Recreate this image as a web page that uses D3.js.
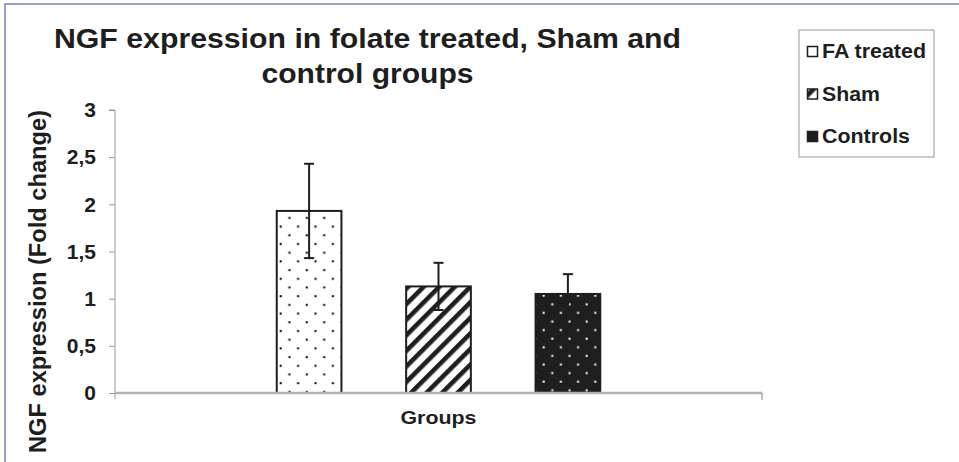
<!DOCTYPE html>
<html>
<head>
<meta charset="utf-8">
<script src="https://cdn.jsdelivr.net/npm/d3@7"></script>
<style>
  body { margin: 0; background: #fff; }
  svg { display: block; font-family: "Liberation Sans", Arial, sans-serif; font-weight: bold; }
</style>
</head>
<body>
<div id="chart"></div>
<script>
// data
const groups = ["FA treated", "Sham", "Controls"];
const means = [1.93, 1.13, 1.05];
const errors = [0.5, 0.25, 0.21];
const yTicks = [0, 0.5, 1, 1.5, 2, 2.5, 3];
const category = "Groups";
const titleLines = ["NGF expression in folate treated, Sham and", "control groups"];
const yLabel = "NGF expression (Fold change)";

const W = 959, H = 462;
const margin = {top: 110, right: 197, bottom: 69, left: 115},
    width = W - margin.left - margin.right,
    height = H - margin.top - margin.bottom;

const ink = "#1e1e1e";

const svg = d3.select("#chart")
    .append("svg")
    .attr("width", W)
    .attr("height", H);

// outer frame (only top and left edges visible)
svg.append("rect")
    .attr("x", 5).attr("y", 4)
    .attr("width", 1200).attr("height", 1200)
    .attr("fill", "none")
    .attr("stroke", "#7483b3")
    .attr("stroke-width", 1.5);

// patterns
const defs = svg.append("defs");

const dots = defs.append("pattern")
    .attr("id", "dotsLight")
    .attr("patternUnits", "userSpaceOnUse")
    .attr("x", 282).attr("y", 216)
    .attr("width", 17.4).attr("height", 17.4);
dots.append("rect").attr("width", 17.4).attr("height", 17.4).attr("fill", "#fff");
dots.append("rect").attr("x", 4.5).attr("y", 4).attr("width", 2).attr("height", 2).attr("fill", "#000");
dots.append("rect").attr("x", 13.2).attr("y", 12.7).attr("width", 2).attr("height", 2).attr("fill", "#000");

const dotsDark = defs.append("pattern")
    .attr("id", "dotsDark")
    .attr("patternUnits", "userSpaceOnUse")
    .attr("x", 537).attr("y", 293)
    .attr("width", 17.2).attr("height", 17.2);
dotsDark.append("rect").attr("width", 17.2).attr("height", 17.2).attr("fill", ink);
dotsDark.append("rect").attr("x", 2.5).attr("y", 3.5).attr("width", 2).attr("height", 2).attr("fill", "#fff");
dotsDark.append("rect").attr("x", 11.1).attr("y", 12.1).attr("width", 2).attr("height", 2).attr("fill", "#fff");

const stripes = defs.append("pattern")
    .attr("id", "stripes")
    .attr("patternUnits", "userSpaceOnUse")
    .attr("width", 11).attr("height", 11)
    .attr("patternTransform", "rotate(45)");
stripes.append("rect").attr("width", 11).attr("height", 11).attr("fill", "#fff");
stripes.append("rect").attr("x", 0).attr("width", 4.6).attr("height", 11).attr("fill", ink);

const fills = ["url(#dotsLight)", "url(#stripes)", "url(#dotsDark)"];

// scales
const y = d3.scaleLinear()
    .domain([0, 3])
    .range([height, 0]);

const x = d3.scaleBand()
    .domain(groups)
    .range([0, width])
    .paddingInner(0.5)
    .paddingOuter(1.25);

const g = svg.append("g")
    .attr("transform", "translate(" + margin.left + "," + margin.top + ")");

// y axis
const yAxis = d3.axisLeft(y)
    .tickValues(yTicks)
    .tickSize(6)
    .tickPadding(13)
    .tickFormat(d => String(d).replace(".", ","));

const ya = g.append("g").call(yAxis);
ya.select(".domain").attr("stroke", "#9a9a9a");
ya.selectAll(".tick line").attr("stroke", "#9a9a9a");
ya.selectAll(".tick text")
    .attr("fill", ink)
    .style("font-size", "21px")
    .style("font-weight", "bold")
    .style("font-family", "'Liberation Sans', Arial, sans-serif");
ya.select(".domain").attr("d", "M-6,0H0V" + (height + 6));

// bars
const data = groups.map((k, i) => ({key: k, mean: means[i], err: errors[i], fill: fills[i]}));

g.selectAll(".bar")
    .data(data)
    .join("rect")
    .attr("class", "bar")
    .attr("x", d => x(d.key))
    .attr("y", d => y(d.mean))
    .attr("width", x.bandwidth())
    .attr("height", d => y(0) - y(d.mean))
    .attr("fill", d => d.fill)
    .attr("stroke", ink)
    .attr("stroke-width", 2);

// x axis baseline with end tick
g.append("line")
    .attr("x1", 0).attr("x2", width)
    .attr("y1", y(0)).attr("y2", y(0))
    .attr("stroke", "#b3b3b3")
    .attr("stroke-width", 2.5);
g.append("line")
    .attr("x1", width).attr("x2", width)
    .attr("y1", y(0)).attr("y2", y(0) + 7)
    .attr("stroke", "#8a8a8a");

// error bars
const eb = g.selectAll(".err")
    .data(data)
    .join("g")
    .attr("class", "err")
    .attr("stroke", ink)
    .attr("stroke-width", 2);
eb.append("line")
    .attr("x1", d => x(d.key) + x.bandwidth() / 2)
    .attr("x2", d => x(d.key) + x.bandwidth() / 2)
    .attr("y1", d => y(d.mean - d.err))
    .attr("y2", d => y(d.mean + d.err));
eb.append("line")
    .attr("x1", d => x(d.key) + x.bandwidth() / 2 - 5)
    .attr("x2", d => x(d.key) + x.bandwidth() / 2 + 5)
    .attr("y1", d => y(d.mean + d.err))
    .attr("y2", d => y(d.mean + d.err));
eb.append("line")
    .attr("x1", d => x(d.key) + x.bandwidth() / 2 - 5)
    .attr("x2", d => x(d.key) + x.bandwidth() / 2 + 5)
    .attr("y1", d => y(d.mean - d.err))
    .attr("y2", d => y(d.mean - d.err));

// category label
g.append("text")
    .attr("x", width / 2)
    .attr("y", height + 31)
    .attr("text-anchor", "middle")
    .attr("fill", ink)
    .style("font-size", "19px")
    .attr("textLength", 76)
    .attr("lengthAdjust", "spacingAndGlyphs")
    .text(category);

// y label
svg.append("text")
    .attr("transform", "translate(46,281.5) rotate(-90)")
    .attr("text-anchor", "middle")
    .attr("fill", ink)
    .style("font-size", "23px")
    .attr("textLength", 343)
    .attr("lengthAdjust", "spacingAndGlyphs")
    .text(yLabel);

// title
const titleLen = [627, 212];
svg.selectAll(".title")
    .data(titleLines)
    .join("text")
    .attr("class", "title")
    .attr("x", 367.5)
    .attr("y", (d, i) => 48 + i * 35)
    .attr("text-anchor", "middle")
    .attr("fill", ink)
    .style("font-size", "27px")
    .attr("textLength", (d, i) => titleLen[i])
    .attr("lengthAdjust", "spacingAndGlyphs")
    .text(d => d);

// legend
const legend = svg.append("g").attr("transform", "translate(799,30)");
legend.append("rect")
    .attr("width", 135).attr("height", 127)
    .attr("fill", "#fff")
    .attr("stroke", "#9a9a9a");

const legLen = [104, 58, 88];
const legSwatch = ["#fff", "url(#stripes)", ink];
const item = legend.selectAll(".item")
    .data(groups)
    .join("g")
    .attr("class", "item")
    .attr("transform", (d, i) => "translate(0," + (28 + i * 42.5) + ")");
item.append("rect")
    .attr("x", 8.5).attr("y", -11.5)
    .attr("width", 10).attr("height", 10)
    .attr("fill", (d, i) => legSwatch[i])
    .attr("stroke", ink)
    .attr("stroke-width", 1.5);
item.append("text")
    .attr("x", 23)
    .attr("y", 0)
    .attr("fill", ink)
    .style("font-size", "20px")
    .attr("textLength", (d, i) => legLen[i])
    .attr("lengthAdjust", "spacingAndGlyphs")
    .text(d => d);
</script>
</body>
</html>
